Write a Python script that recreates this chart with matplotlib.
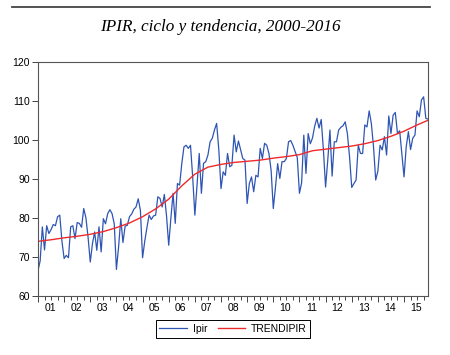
import numpy as np
import matplotlib.pyplot as plt

# monthly IPIR, 2001m01 - 2015m12 (one row per year)
ipir = [
    66.5, 69.0, 77.7, 71.8, 78.0, 76.0, 77.0, 78.3, 78.0, 80.3, 80.7, 74.0,
    69.6, 70.4, 69.8, 77.7, 78.0, 74.7, 78.8, 78.6, 77.6, 82.4, 80.0, 75.0,
    68.7, 73.4, 76.4, 71.7, 77.7, 71.3, 79.8, 78.5, 81.1, 82.1, 81.1, 78.5,
    66.8, 72.6, 79.8, 73.7, 77.9, 78.1, 80.3, 81.0, 82.2, 82.8, 84.9, 82.0,
    69.8, 74.0, 77.5, 80.7, 79.6, 80.5, 80.7, 85.4, 85.0, 82.8, 86.0, 80.5,
    73.0, 80.0, 86.3, 78.6, 88.8, 88.4, 93.9, 98.2, 98.6, 97.8, 98.6, 90.5,
    80.7, 88.4, 96.5, 86.3, 94.0, 94.4, 96.1, 99.5, 100.4, 102.5, 104.2, 97.4,
    87.5, 91.8, 90.9, 96.5, 93.1, 93.5, 101.2, 96.9, 99.7, 97.4, 95.2, 94.8,
    83.7, 88.8, 90.5, 86.7, 90.9, 90.5, 97.8, 95.2, 99.1, 98.6, 96.5, 92.2,
    82.4, 87.9, 93.9, 90.1, 94.4, 94.4, 95.2, 99.5, 99.8, 98.6, 97.0, 95.5,
    86.3, 89.0, 101.2, 91.4, 101.6, 99.0, 100.5, 103.5, 105.5, 103.0, 105.2, 97.4,
    87.9, 94.8, 102.5, 90.7, 99.5, 99.5, 102.5, 103.2, 103.6, 104.6, 101.6, 95.6,
    87.8, 88.8, 89.7, 98.6, 96.5, 96.5, 103.8, 103.3, 107.4, 104.2, 98.2, 89.7,
    92.0, 98.6, 97.4, 100.8, 96.1, 106.1, 101.6, 106.3, 107.0, 101.6, 102.3, 96.5,
    90.5, 98.2, 102.1, 97.5, 100.4, 101.2, 107.4, 105.9, 110.2, 111.0, 105.5, 105.3,
]

# trend read every six months (month index from 2001m01)
trend_month = [0, 6, 12, 18, 24, 30, 36, 42, 48, 54, 60, 66, 72, 78, 84, 90,
               96, 102, 108, 114, 120, 126, 132, 138, 144, 150, 156, 162, 168, 174, 179]
trend = [74.0, 74.4, 74.9, 75.3, 75.8, 76.5, 77.5, 78.7, 80.3, 82.3, 84.8, 88.2,
         91.2, 93.0, 93.7, 94.2, 94.5, 94.8, 95.3, 95.7, 96.2, 97.2, 97.6, 98.0,
         98.4, 99.0, 99.8, 100.9, 102.2, 103.8, 105.0]

year_labels = ["01", "02", "03", "04", "05", "06", "07", "08",
               "09", "10", "11", "12", "13", "14", "15"]

plt.rcParams['font.family'] = ['Liberation Sans', 'DejaVu Sans']

fig = plt.figure(figsize=(4.5, 3.55), dpi=100)
ax = fig.add_axes([0.0844, 0.1662, 0.8667, 0.6600])

months = np.arange(len(ipir))
ax.plot(months, ipir, color='#2f55b4', lw=0.9, label='Ipir')
ax.plot(trend_month, trend, color='#ee2a2a', lw=1.0, label='TRENDIPIR')

ax.set_xlim(0, 179)
ax.set_ylim(60, 120)
ax.set_yticks(np.arange(60, 121, 10))

ax.set_xticks(np.arange(0, 180, 12))
ax.set_xticklabels([])
ax.set_xticks(np.arange(0, 180, 3), minor=True)
ax.tick_params(axis='x', which='major', length=4, width=0.7, color='#444444')
ax.tick_params(axis='x', which='minor', length=3, width=0.7, color='#444444')
ax.tick_params(axis='y', length=4, width=0.7, color='#444444', labelsize=7.5, pad=2)
for k, lab in enumerate(year_labels):
    ax.text(12 * k + 5.5, 58.2, lab, ha='center', va='top', fontsize=7.5)

for s in ax.spines.values():
    s.set_color('#555555')
    s.set_linewidth(0.8)

fig.legend(loc='center', bbox_to_anchor=(0.518, 0.073), ncol=2, fontsize=7.5,
           frameon=True, fancybox=False, edgecolor='black', framealpha=1,
           handlelength=2.6, columnspacing=1.0, handletextpad=0.6,
           borderpad=0.35).get_frame().set_linewidth(0.7)

fig.add_artist(plt.Line2D([0.026, 0.955], [0.981, 0.981], color='#444444', lw=1.3,
                          transform=fig.transFigure))
fig.text(0.49, 0.925, 'IPIR, ciclo y tendencia, 2000-2016', ha='center', va='center',
         fontsize=12.3, style='italic', family=['Liberation Serif', 'DejaVu Serif'])

fig.savefig('out.png', dpi=100)
